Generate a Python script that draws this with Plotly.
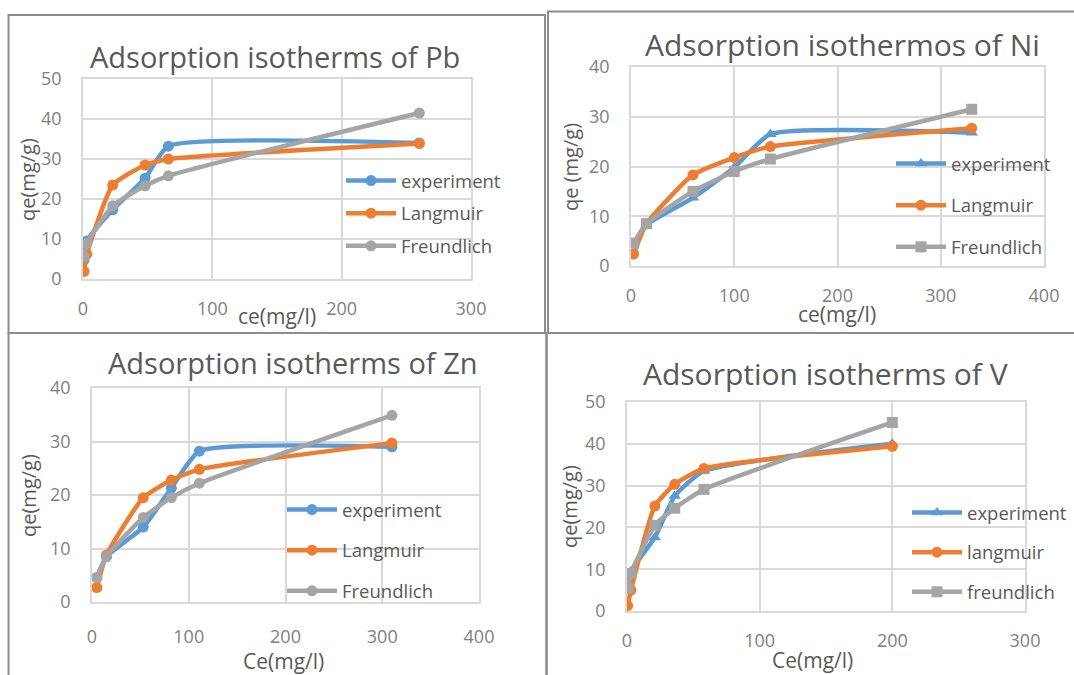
import plotly.graph_objects as go

# ---------------- data ----------------
pb_ce = [0.8, 3, 23, 48, 66, 260]
pb_exp = [4.7, 9.5, 17.3, 25.2, 33.2, 34.0]
pb_lang = [1.9, 6.2, 23.5, 28.5, 30.0, 33.9]
pb_freu = [5.6, 8.9, 18.3, 23.3, 25.8, 41.5]

ni_ce = [2.5, 15, 60, 100, 135, 330]
ni_exp = [4.5, 8.3, 13.7, 19.8, 26.5, 26.8]
ni_lang = [2.4, 8.5, 18.3, 21.8, 24.0, 27.7]
ni_freu = [4.6, 8.5, 15.0, 19.0, 21.5, 31.5]

zn_ce = [5, 15, 53, 82, 111, 310]
zn_exp = [4.6, 8.5, 14.0, 21.3, 28.2, 29.0]
zn_lang = [2.7, 8.8, 19.5, 22.8, 24.8, 29.7]
zn_freu = [4.5, 8.5, 15.8, 19.5, 22.2, 34.9]

v_ce = [0.5, 3, 21, 36, 58, 200]
v_exp = [5.0, 9.5, 17.6, 27.5, 33.5, 40.0]
v_lang = [1.3, 5.0, 25.1, 30.3, 34.1, 39.4]
v_freu = [5.4, 9.0, 20.5, 24.6, 29.1, 45.1]

titles = ["Adsorption isotherms of Pb", "Adsorption isothermos of Ni",
          "Adsorption isotherms of Zn", "Adsorption isotherms of V"]
x_titles = ["ce(mg/l)", "ce(mg/l)", "Ce(mg/l)", "Ce(mg/l)"]
y_titles = ["qe(mg/g)", "qe (mg/g)", "qe(mg/g)", "qe(mg/g)"]
legend_names = [
    ["experiment", "Langmuir", "Freundlich"],
    ["experiment", "Langmuir", "Freundlich"],
    ["experiment", "Langmuir", "Freundlich"],
    ["experiment", "langmuir", "freundlich"],
]
x_max = [300, 400, 400, 300]
y_max = [50, 40, 40, 50]

# ---------------- layout helpers ----------------
W, H = 1074, 675
def px(x):
    return x / W
def py(y):
    return 1 - y / H

BLUE, ORANGE, GRAY = "#5B9BD5", "#ED7D31", "#A5A5A5"
FONT = "Open Sans"
TXT = "#595959"
GRID = "#D9D9D9"

# plot-area pixel boxes (left, top, right, bottom)
boxes = [(83, 79, 471, 279), (631, 67, 1044, 266), (92, 388, 479, 602), (627, 402, 1025, 611)]
symbols = [
    ["circle", "circle", "circle"],
    ["triangle-up", "circle", "square"],
    ["circle", "circle", "circle"],
    ["triangle-up", "circle", "square"],
]
title_pos = [(275, 57), (842, 45), (293, 362), (825, 373)]
title_size = [29, 30, 29, 30]
xtitle_pos = [(277, 316), (837, 314), (283, 661), (812, 660)]
ytitle_pos = [(28, 180), (570, 167), (28, 496), (570, 507)]
legend_pos = [(341, 162), (891, 145), (282, 491), (907, 494)]
legend_gap = [5.6, 14.6, 13.6, 12.6]
x_standoff = [13, 13, 18, 13]

data = [
    (pb_ce, [pb_exp, pb_lang, pb_freu]),
    (ni_ce, [ni_exp, ni_lang, ni_freu]),
    (zn_ce, [zn_exp, zn_lang, zn_freu]),
    (v_ce, [v_exp, v_lang, v_freu]),
]
colors = [BLUE, ORANGE, GRAY]

fig = go.Figure()
layout = dict(
    width=W, height=H, margin=dict(l=0, r=0, t=0, b=0, autoexpand=False),
    paper_bgcolor="white", plot_bgcolor="white",
    font=dict(family=FONT, color=TXT),
    annotations=[], shapes=[],
)

for i in range(4):
    sfx = "" if i == 0 else str(i + 1)
    xa, ya = "x" + sfx, "y" + sfx
    leg = "legend" + sfx
    ce, series = data[i]
    for j in range(3):
        fig.add_trace(go.Scatter(
            x=ce, y=series[j], name=legend_names[i][j],
            mode="lines+markers",
            line=dict(color=colors[j], width=4.5, shape="spline", smoothing=0.5),
            marker=dict(color=colors[j], size=11, symbol=symbols[i][j]),
            xaxis=xa, yaxis=ya, legend=leg,
            legendgroup=f"g{i}{j}",
        ))
    l, t, r, b = boxes[i]
    layout["xaxis" + sfx] = dict(
        domain=[px(l), px(r)], anchor=ya, range=[0, x_max[i]], dtick=100,
        showgrid=True, gridcolor=GRID, gridwidth=1.5, zeroline=False,
        showline=True, linecolor=GRID, linewidth=1.5, mirror=True,
        ticks="", tickfont=dict(size=18, color="#7F7F7F", family=FONT),
        ticklabelstandoff=x_standoff[i], automargin=False,
    )
    layout["yaxis" + sfx] = dict(
        domain=[py(b), py(t)], anchor=xa, range=[0, y_max[i]], dtick=10,
        showgrid=True, gridcolor=GRID, gridwidth=1.5, zeroline=False,
        showline=True, linecolor=GRID, linewidth=1.5, mirror=True,
        ticks="", tickfont=dict(size=18, color="#7F7F7F", family=FONT),
        ticklabelstandoff=16, automargin=False,
    )
    lx, ly = legend_pos[i]
    layout[leg] = dict(
        x=px(lx), y=py(ly), xanchor="left", yanchor="top",
        bgcolor="rgba(0,0,0,0)", borderwidth=0,
        font=dict(size=18.5, color=TXT, family=FONT),
        traceorder="grouped", tracegroupgap=legend_gap[i], itemwidth=50,
    )
    tx, ty = title_pos[i]
    layout["annotations"].append(dict(
        text=titles[i], x=px(tx), y=py(ty), xref="paper", yref="paper",
        xanchor="center", yanchor="middle", showarrow=False,
        font=dict(size=title_size[i], color=TXT, family=FONT)))
    ax_, ay_ = xtitle_pos[i]
    layout["annotations"].append(dict(
        text=x_titles[i], x=px(ax_), y=py(ay_), xref="paper", yref="paper",
        xanchor="center", yanchor="middle", showarrow=False,
        font=dict(size=21, color=TXT, family=FONT)))
    yx, yy = ytitle_pos[i]
    layout["annotations"].append(dict(
        text=y_titles[i], x=px(yx), y=py(yy), xref="paper", yref="paper",
        xanchor="center", yanchor="middle", showarrow=False, textangle=-90,
        font=dict(size=20, color=TXT, family=FONT)))

# panel frames (paper coordinates)
frames = [(8.5, 15, 545, 333), (548, 11.5, 1080, 333), (8.5, 333, 546.5, 700), (546.5, 333, 1080, 700)]
for (l, t, r, b) in frames:
    layout["shapes"].append(dict(
        type="rect", xref="paper", yref="paper",
        x0=px(l), x1=px(r), y0=py(b), y1=py(t),
        line=dict(color="#8C8C8C", width=2), layer="above"))

fig.update_layout(**layout)
fig.write_html("out.html")
